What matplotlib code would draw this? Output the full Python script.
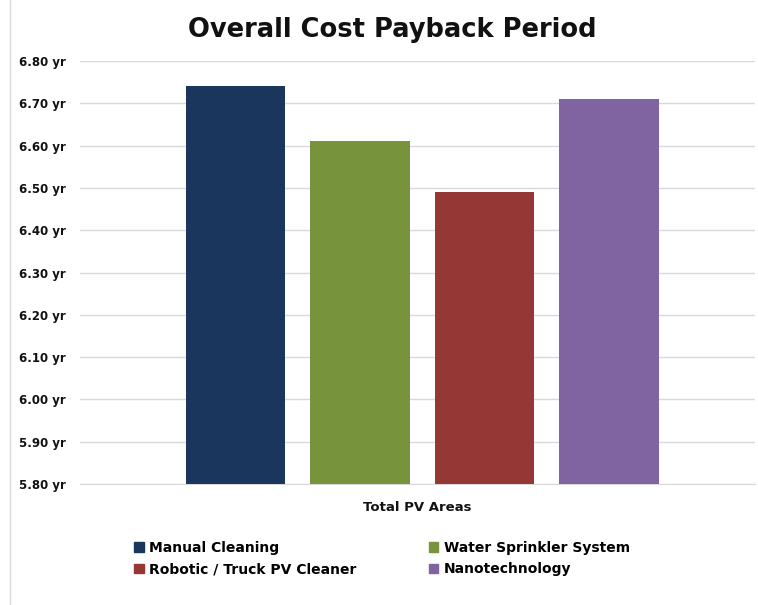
import matplotlib.pyplot as plt
from matplotlib.patches import Patch

# payback period per cleaning method (years)
methods = ["Manual Cleaning", "Water Sprinkler System",
           "Robotic / Truck PV Cleaner", "Nanotechnology"]
payback = [6.74, 6.61, 6.49, 6.71]
colors = ["#1B365D", "#77933C", "#953735", "#8064A2"]

yticks = [5.80, 5.90, 6.00, 6.10, 6.20, 6.30, 6.40, 6.50, 6.60, 6.70, 6.80]

plt.rcParams['font.family'] = ['DejaVu Sans']

fig = plt.figure(figsize=(7.58, 6.05), dpi=100)
ax = fig.add_axes([0.1055, 0.2, 0.89, 0.699])

x = list(range(len(methods)))
ax.bar(x, [v - yticks[0] for v in payback], bottom=yticks[0],
       width=0.8, color=colors, zorder=3)

ax.set_ylim(yticks[0], yticks[-1])
ax.set_xlim(-1.25, 4.17)
ax.set_yticks(yticks)
ax.set_yticklabels(["%.2f yr" % t for t in yticks],
                   fontsize=8.5, fontweight='bold', color='#111111')
ax.set_xticks([])
ax.yaxis.grid(True, color='#D9D9D9', linewidth=1, zorder=0)
ax.tick_params(axis='y', length=0, pad=10)
for s in ['top', 'right', 'left']:
    ax.spines[s].set_visible(False)
ax.spines['bottom'].set_color('#D9D9D9')

ax.set_xlabel("Total PV Areas", fontsize=9.5, fontweight='bold',
              color='#111111', labelpad=12)

fig.text(0.517, 0.95, "Overall Cost Payback Period", ha='center', va='center',
         fontsize=18.5, fontweight='bold', color='#111111')

# legend: two columns filled row by row
order = [0, 2, 1, 3]
handles = [Patch(color=colors[i]) for i in order]
labels = [methods[i] for i in order]
leg = fig.legend(handles, labels, ncol=2, loc='center',
                 bbox_to_anchor=(0.504, 0.077), frameon=False,
                 prop={'weight': 'bold', 'size': 10},
                 handlelength=0.7, handleheight=0.7, handletextpad=0.4,
                 columnspacing=5.2, labelspacing=0.55)

# thin chart border on the left
fig.add_artist(plt.Line2D([0.013, 0.013], [0.0, 1.0], color='#D9D9D9', linewidth=1))

fig.savefig("out.png", dpi=100)
